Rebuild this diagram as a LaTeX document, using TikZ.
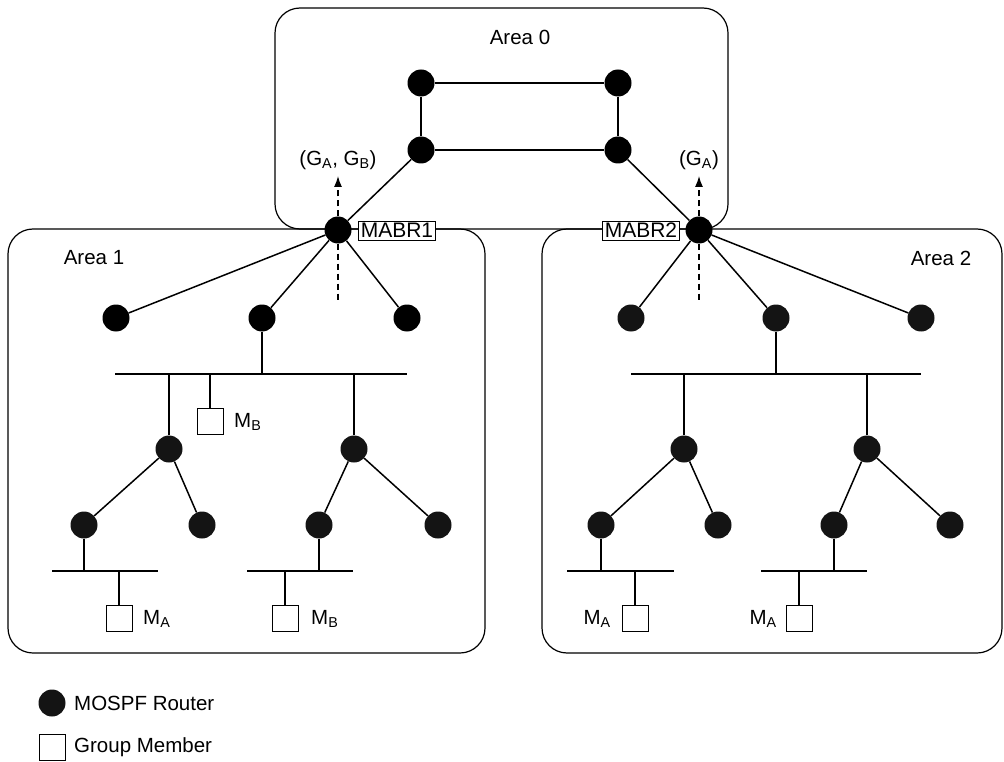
\documentclass[tikz,border=0pt]{standalone}
\usepackage{fontspec}
\setmainfont{Liberation Sans}
\usetikzlibrary{arrows.meta}
\begin{document}
\begin{tikzpicture}[x=1pt,y=-1pt,
 router/.style={circle,fill=black,minimum size=27pt,inner sep=0pt},
 grouter/.style={router,fill=black!92},
 member/.style={rectangle,draw,fill=white,minimum size=26pt,inner sep=0pt,line width=0.9pt},
 area/.style={draw,rounded corners=25pt,line width=1.2pt},
 link/.style={line width=1.5pt},
 bus/.style={line width=1.7pt},
 lbl/.style={draw,fill=white,inner xsep=2.5pt,inner ysep=2pt,text height=14.5pt,text depth=1pt,line width=1.1pt,font=\fontsize{21}{24}\selectfont},
 txt/.style={font=\fontsize{20.5}{24}\selectfont,inner sep=0pt},
 mcast/.style={dash pattern=on 6pt off 4pt,line width=1.3pt},
 tip/.style={-{Latex[length=11pt,width=8pt]}}
]
\useasboundingbox (0,0) rectangle (1004,762);
% areas
\draw[area] (275,8) rectangle (728,229);
\draw[area] (8,229) rectangle (485,653);
\draw[area] (542,229) rectangle (1002,653);
\node[txt] (a0) at (520,37) {Area 0};
\node[txt] (a1) at (94,258) {Area 1};
\node[txt] (a2) at (941,258) {Area 2};
% area 0
\node[router] (r0a) at (421,83) {};
\node[router] (r0b) at (618,83) {};
\node[router] (r0c) at (421,150) {};
\node[router] (r0d) at (618,150) {};
\node[router] (m1) at (338,230) {};
\node[router] (m2) at (699,230) {};
\draw[link] (r0a) -- (r0b);
\draw[link] (r0a) -- (r0c);
\draw[link] (r0b) -- (r0d);
\draw[link] (r0c) -- (r0d);
\draw[link] (r0c) -- (m1);
\draw[link] (r0d) -- (m2);
\node[lbl] (l1) at (397,231) {MABR1};
\node[lbl] (l2) at (641,231) {MABR2};
% multicast summaries
\coordinate (u1) at (338,176);
\coordinate (d1) at (338,302);
\coordinate (u2) at (699,176);
\coordinate (d2) at (699,302);
\draw[mcast,tip] (m1.north) -- (u1);
\draw[mcast] (m1.south) -- (d1);
\draw[mcast,tip] (m2.north) -- (u2);
\draw[mcast] (m2.south) -- (d2);
\node[txt] (g1) at (338,160) {(G\textsubscript{A}, G\textsubscript{B})};
\node[txt] (g2) at (699,160) {(G\textsubscript{A})};
% area 1
\node[router] (r1a) at (116,318) {};
\node[router] (r1b) at (262,318) {};
\node[router] (r1c) at (407,318) {};
\draw[link] (m1) -- (r1a);
\draw[link] (m1) -- (r1b);
\draw[link] (m1) -- (r1c);
\coordinate (b1l) at (115,374);
\coordinate (b1r) at (407,374);
\draw[bus] (b1l) -- (b1r);
\draw[link] (r1b) -- (r1b |- b1l);
\node[grouter] (r1d) at (169,449) {};
\node[grouter] (r1e) at (354,449) {};
\draw[link] (r1d) -- (r1d |- b1l);
\draw[link] (r1e) -- (r1e |- b1l);
\node[member] (mb1) at (210,421) {};
\draw[link] (mb1) -- (mb1 |- b1l);
\node[txt,anchor=west] (tmb1) at (234,422) {M\textsubscript{B}};
\node[grouter] (r1f) at (84,525) {};
\node[grouter] (r1g) at (202,525) {};
\node[grouter] (r1h) at (319,525) {};
\node[grouter] (r1i) at (438,525) {};
\draw[link] (r1d) -- (r1f);
\draw[link] (r1d) -- (r1g);
\draw[link] (r1e) -- (r1h);
\draw[link] (r1e) -- (r1i);
\coordinate (b2l) at (52,571);
\coordinate (b2r) at (158,571);
\draw[bus] (b2l) -- (b2r);
\draw[link] (r1f) -- (r1f |- b2l);
\node[member] (ma1) at (119,618) {};
\draw[link] (ma1) -- (ma1 |- b2l);
\node[txt,anchor=west] (tma1) at (143,619) {M\textsubscript{A}};
\coordinate (b3l) at (247,571);
\coordinate (b3r) at (353,571);
\draw[bus] (b3l) -- (b3r);
\draw[link] (r1h) -- (r1h |- b3l);
\node[member] (mb2) at (285,618) {};
\draw[link] (mb2) -- (mb2 |- b3l);
\node[txt,anchor=west] (tmb2) at (311,619) {M\textsubscript{B}};
% area 2
\node[grouter] (r2a) at (631,318) {};
\node[grouter] (r2b) at (776,318) {};
\node[grouter] (r2c) at (921,318) {};
\draw[link] (m2) -- (r2a);
\draw[link] (m2) -- (r2b);
\draw[link] (m2) -- (r2c);
\coordinate (b4l) at (631,374);
\coordinate (b4r) at (921,374);
\draw[bus] (b4l) -- (b4r);
\draw[link] (r2b) -- (r2b |- b4l);
\node[grouter] (r2d) at (684,449) {};
\node[grouter] (r2e) at (867,449) {};
\draw[link] (r2d) -- (r2d |- b4l);
\draw[link] (r2e) -- (r2e |- b4l);
\node[grouter] (r2f) at (601,525) {};
\node[grouter] (r2g) at (718,525) {};
\node[grouter] (r2h) at (834,525) {};
\node[grouter] (r2i) at (950,525) {};
\draw[link] (r2d) -- (r2f);
\draw[link] (r2d) -- (r2g);
\draw[link] (r2e) -- (r2h);
\draw[link] (r2e) -- (r2i);
\coordinate (b5l) at (567,571);
\coordinate (b5r) at (674,571);
\draw[bus] (b5l) -- (b5r);
\draw[link] (r2f) -- (r2f |- b5l);
\node[member] (ma2) at (635,618) {};
\draw[link] (ma2) -- (ma2 |- b5l);
\node[txt,anchor=east] (tma2) at (611,619) {M\textsubscript{A}};
\coordinate (b6l) at (761,571);
\coordinate (b6r) at (867,571);
\draw[bus] (b6l) -- (b6r);
\draw[link] (r2h) -- (r2h |- b6l);
\node[member] (ma3) at (799,618) {};
\draw[link] (ma3) -- (ma3 |- b6l);
\node[txt,anchor=east] (tma3) at (777,619) {M\textsubscript{A}};
% legend
\node[grouter] (lr) at (52,703) {};
\node[txt,anchor=west] (tlr) at (74,703) {MOSPF Router};
\node[member] (lm) at (52,747) {};
\node[txt,anchor=west] (tlm) at (74,747) {Group Member};
\end{tikzpicture}
\end{document}
